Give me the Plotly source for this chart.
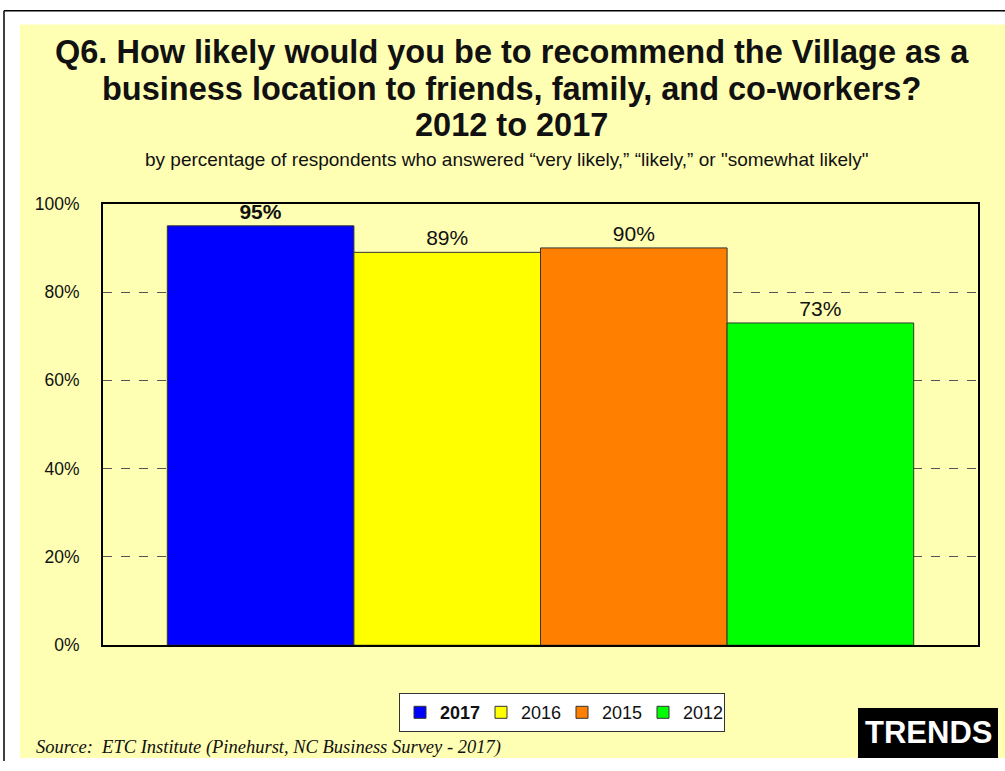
import plotly.graph_objects as go

W, H = 1005, 771

years = ["2017", "2016", "2015", "2012"]
shares = [0.95, 0.89, 0.90, 0.73]
colors = ["#0000FF", "#FFFF00", "#FF8000", "#00FF00"]
y_ticks = [0, 0.2, 0.4, 0.6, 0.8, 1.0]
y_tick_text = ["0%", "20%", "40%", "60%", "80%", "100%"]

title_lines = [
    "Q6. How likely would you be to recommend the Village as a",
    "business location to friends, family, and co-workers?",
    "2012 to 2017",
]
subtitle_text = ("by percentage of respondents who answered \u201cvery likely,\u201d "
                 "\u201clikely,\u201d or \"somewhat likely\"")
source_text = "Source:  ETC Institute (Pinehurst, NC Business Survey - 2017)"


def px_x(x):
    return x / W


def px_y(y):
    # screen pixel row -> paper fraction (the page comes out slightly squeezed vertically)
    lay = (y - 7.56) / 0.9774
    return 1 - lay / H


fig = go.Figure()
for i, (yr, val, col) in enumerate(zip(years, shares, colors)):
    label = f"{val:.0%}"
    name = yr
    if i == 0:
        label = f"<b>{label}</b>"
        name = f"<b>{yr}</b>"
    fig.add_trace(go.Bar(
        x=[""], y=[val], name=name,
        marker=dict(color=col, line=dict(color="#333333", width=1)),
        text=[label], textposition="outside", cliponaxis=False,
        constraintext="none",
        textfont=dict(family="Arial", size=21, color="#111111"),
    ))

annotations = []
for line, yc in zip(title_lines, [50, 87, 123]):
    annotations.append(dict(
        text=f"<b>{line}</b>", xref="paper", yref="paper",
        x=0.509, y=px_y(yc), xanchor="center", yanchor="middle",
        showarrow=False, font=dict(family="Arial", size=32.5, color="#111111"),
    ))
annotations += [
    dict(text=subtitle_text, xref="paper", yref="paper",
         x=0.504, y=px_y(158), xanchor="center", yanchor="middle",
         showarrow=False, font=dict(family="Arial", size=19, color="#111111")),
    dict(text=source_text, xref="paper", yref="paper",
         x=px_x(34), y=px_y(748), xanchor="left", yanchor="middle",
         showarrow=False,
         font=dict(family="Liberation Serif", size=18.5, color="#111111", style="italic")),
    dict(text="<b>TRENDS</b>", xref="paper", yref="paper",
         x=px_x(928), y=px_y(733), xanchor="center", yanchor="middle",
         showarrow=False, font=dict(family="Arial", size=31, color="white")),
]

fig.update_layout(
    width=W, height=H, autosize=False,
    margin=dict(l=0, r=0, t=0, b=0),
    paper_bgcolor="white",
    plot_bgcolor="white",
    barmode="group",
    bargap=0.147,
    bargroupgap=0,
    font=dict(family="Arial", color="#111111"),
    showlegend=True,
    legend=dict(
        orientation="h", x=px_x(562), xanchor="center", y=px_y(693), yanchor="top",
        bgcolor="white", bordercolor="#333333", borderwidth=1,
        font=dict(family="Arial", size=18, color="#111111"),
        itemwidth=30, tracegroupgap=0, traceorder="normal",
        entrywidth=36, entrywidthmode="pixels",
    ),
    xaxis=dict(
        domain=[px_x(103), px_x(978)],
        showticklabels=False, showgrid=False,
        showline=True, mirror=True, linecolor="black", linewidth=2,
    ),
    yaxis=dict(
        domain=[px_y(645), px_y(202)],
        range=[0, 1], tickvals=y_ticks, ticktext=y_tick_text,
        showgrid=True, gridcolor="#555555", griddash="dash", gridwidth=1,
        showline=True, mirror=True, linecolor="black", linewidth=2,
        ticks="", ticklabelstandoff=18,
        tickfont=dict(family="Arial", size=17.5, color="#111111"),
        zeroline=False,
    ),
    shapes=[
        dict(type="rect", xref="paper", yref="paper", layer="below",
             x0=px_x(20), x1=1.0, y0=px_y(758), y1=px_y(22),
             fillcolor="#FFFFB3", line=dict(width=0)),
        dict(type="line", xref="paper", yref="paper",
             x0=px_x(4), x1=px_x(4), y0=0, y1=1 - 0.75 / H,
             line=dict(color="black", width=1.5)),
        dict(type="line", xref="paper", yref="paper",
             x0=px_x(4), x1=1.0, y0=1 - 0.75 / H, y1=1 - 0.75 / H,
             line=dict(color="black", width=1.5)),
        dict(type="rect", xref="paper", yref="paper",
             x0=px_x(858), x1=px_x(998), y0=px_y(758), y1=px_y(708),
             fillcolor="black", line=dict(width=0)),
    ],
    annotations=annotations,
)

fig.write_html(
    "out.html",
    config={"displayModeBar": False, "responsive": False},
    post_script="document.body.style.margin='0';document.body.style.overflow='hidden';",
)
